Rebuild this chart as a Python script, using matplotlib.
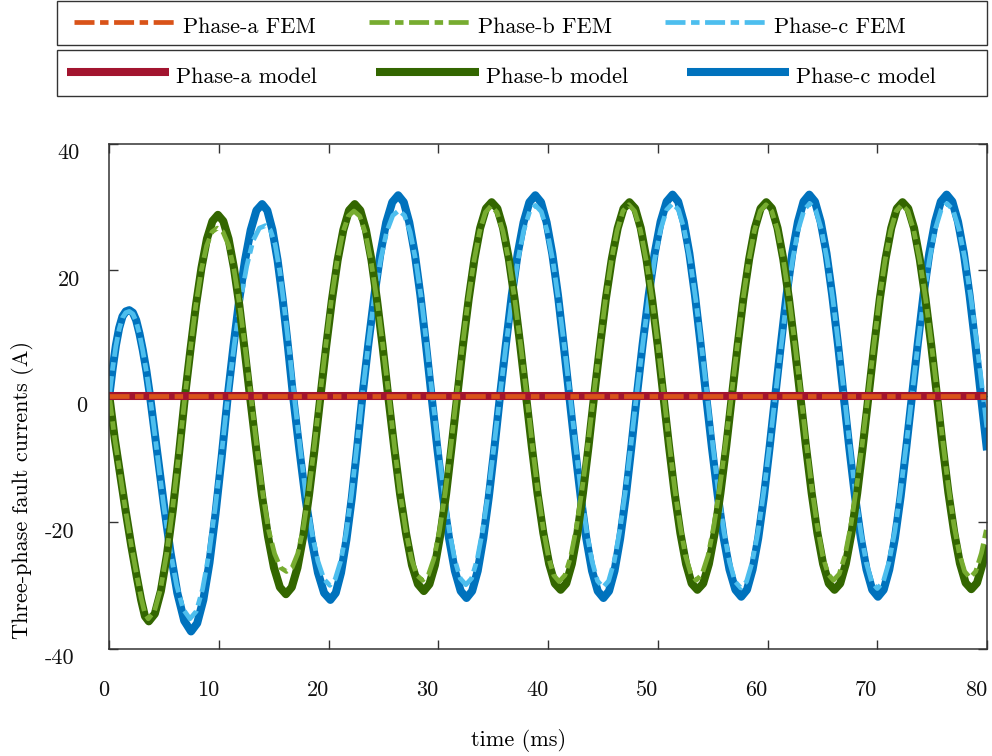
import matplotlib
matplotlib.use("Agg")
import matplotlib.pyplot as plt
from matplotlib.patches import Rectangle
from matplotlib.transforms import ScaledTranslation

plt.rcParams.update({
    "font.family": "serif",
    "font.serif": ["cmr10"],
    "axes.unicode_minus": False,
    "axes.formatter.use_mathtext": True,
    "mathtext.fontset": "cm",
    "lines.scale_dashes": False,
})

# ---------------------------------------------------------------- data (ms, A)
t_a = [0.0, 80.0]
i_a_model = [0.0, 0.0]
i_a_fem = [0.0, 0.0]

t_b_model = [
    0.0, 0.5, 1.0, 1.5, 2.0, 2.5, 2.9, 3.25, 3.6,
    4.15, 4.70, 5.25, 5.80, 6.35, 6.90,
    7.40, 7.90, 8.40, 8.90, 9.40, 9.90,
    10.39, 10.87, 11.36, 11.85, 12.33, 12.82,
    13.37, 13.91, 14.46, 15.01, 15.55, 16.10,
    16.63, 17.15, 17.68, 18.20, 18.73, 19.25,
    19.77, 20.29, 20.81, 21.33, 21.85, 22.37,
    22.88, 23.39, 23.90, 24.40, 24.91, 25.42,
    25.96, 26.50, 27.05, 27.59, 28.13, 28.67,
    29.18, 29.68, 30.19, 30.70, 31.20, 31.71,
    32.23, 32.76, 33.28, 33.80, 34.33, 34.85,
    35.37, 35.89, 36.42, 36.94, 37.46, 37.98,
    38.51, 39.03, 39.56, 40.09, 40.61, 41.14,
    41.65, 42.16, 42.67, 43.17, 43.68, 44.19,
    44.73, 45.26, 45.80, 46.34, 46.87, 47.41,
    47.93, 48.44, 48.96, 49.47, 49.99, 50.50,
    51.02, 51.53, 52.05, 52.57, 53.08, 53.60,
    54.13, 54.65, 55.18, 55.70, 56.23, 56.75,
    57.27, 57.79, 58.32, 58.84, 59.36, 59.88,
    60.40, 60.91, 61.43, 61.95, 62.46, 62.98,
    63.50, 64.02, 64.54, 65.06, 65.58, 66.10,
    66.62, 67.13, 67.65, 68.17, 68.68, 69.20,
    69.72, 70.23, 70.75, 71.27, 71.78, 72.30,
    72.82, 73.35, 73.87, 74.39, 74.92, 75.44,
    75.96, 76.48, 77.01, 77.53, 78.05, 78.57,
    79.09, 79.61, 80.00,
]
i_b_model = [
    0.0, -6.8, -12.6, -18.3, -23.7, -28.6, -32.3, -34.9, -35.7,
    -34.5, -30.9, -25.2, -17.9, -9.2, 0.0,
    7.4, 14.4, 20.3, 24.9, 27.7, 28.7,
    27.7, 24.9, 20.3, 14.4, 7.4, 0.0,
    -8.1, -15.7, -22.2, -27.2, -30.3, -31.4,
    -30.3, -27.2, -22.2, -15.7, -8.1, 0.0,
    7.9, 15.2, 21.5, 26.3, 29.4, 30.4,
    29.4, 26.3, 21.5, 15.2, 7.9, 0.0,
    -8.0, -15.5, -21.8, -26.8, -29.8, -30.9,
    -29.8, -26.8, -21.8, -15.5, -8.0, 0.0,
    8.0, 15.4, 21.7, 26.6, 29.7, 30.7,
    29.7, 26.6, 21.7, 15.4, 8.0, 0.0,
    -8.0, -15.4, -21.7, -26.6, -29.7, -30.7,
    -29.7, -26.6, -21.7, -15.4, -8.0, 0.0,
    8.0, 15.4, 21.7, 26.6, 29.7, 30.7,
    29.7, 26.6, 21.7, 15.4, 8.0, 0.0,
    -8.0, -15.4, -21.7, -26.6, -29.7, -30.7,
    -29.7, -26.6, -21.7, -15.4, -8.0, 0.0,
    8.0, 15.4, 21.7, 26.6, 29.7, 30.7,
    29.7, 26.6, 21.7, 15.4, 8.0, 0.0,
    -8.0, -15.4, -21.7, -26.6, -29.7, -30.7,
    -29.7, -26.6, -21.7, -15.4, -8.0, 0.0,
    8.0, 15.4, 21.7, 26.6, 29.7, 30.7,
    29.7, 26.6, 21.7, 15.4, 8.0, 0.0,
    -7.9, -15.3, -21.6, -26.5, -29.6, -30.6,
    -29.6, -26.5, -23.6,
]

t_c_model = [
    0.0, 0.3, 0.6, 0.9, 1.2, 1.5, 1.82, 2.15, 2.45, 2.75, 3.05, 3.38, 3.71,
    4.33, 4.96, 5.58, 6.20, 6.83, 7.45,
    8.01, 8.57, 9.13, 9.68, 10.24, 10.80,
    11.32, 11.84, 12.37, 12.89, 13.41, 13.93,
    14.40, 14.87, 15.34, 15.81, 16.28, 16.75,
    17.32, 17.88, 18.45, 19.02, 19.58, 20.15,
    20.64, 21.12, 21.61, 22.10, 22.58, 23.07,
    23.61, 24.16, 24.70, 25.24, 25.79, 26.33,
    26.84, 27.34, 27.85, 28.36, 28.86, 29.37,
    29.90, 30.43, 30.97, 31.50, 32.03, 32.56,
    33.07, 33.58, 34.08, 34.59, 35.10, 35.61,
    36.15, 36.68, 37.22, 37.76, 38.29, 38.83,
    39.35, 39.86, 40.38, 40.90, 41.41, 41.93,
    42.45, 42.97, 43.48, 44.00, 44.52, 45.04,
    45.55, 46.05, 46.56, 47.07, 47.57, 48.08,
    48.62, 49.17, 49.71, 50.25, 50.80, 51.34,
    51.85, 52.36, 52.87, 53.38, 53.89, 54.40,
    54.93, 55.47, 56.00, 56.53, 57.07, 57.60,
    58.12, 58.63, 59.15, 59.67, 60.18, 60.70,
    61.22, 61.73, 62.25, 62.77, 63.28, 63.80,
    64.32, 64.84, 65.37, 65.89, 66.41, 66.93,
    67.45, 67.97, 68.50, 69.02, 69.54, 70.06,
    70.58, 71.09, 71.61, 72.13, 72.64, 73.16,
    73.69, 74.21, 74.74, 75.27, 75.79, 76.32,
    76.84, 77.36, 77.89, 78.41, 78.93, 79.45,
    80.00,
]
i_c_model = [
    0.0, 4.3, 8.0, 10.8, 12.6, 13.4, 13.6, 13.2, 12.0, 9.9, 7.3, 4.0, 0.0,
    -8.5, -17.0, -24.8, -31.2, -35.6, -37.3,
    -36.0, -32.3, -26.4, -18.7, -9.7, 0.0,
    7.9, 15.2, 21.5, 26.3, 29.4, 30.4,
    29.4, 26.3, 21.5, 15.2, 7.9, 0.0,
    -8.4, -16.2, -22.8, -28.0, -31.2, -32.3,
    -31.2, -28.0, -22.8, -16.2, -8.4, 0.0,
    8.2, 15.9, 22.5, 27.5, 30.7, 31.8,
    30.7, 27.5, 22.5, 15.9, 8.2, 0.0,
    -8.3, -16.0, -22.6, -27.7, -30.9, -32.0,
    -30.9, -27.7, -22.6, -16.0, -8.3, 0.0,
    8.2, 15.9, 22.5, 27.5, 30.7, 31.8,
    30.7, 27.5, 22.5, 15.9, 8.2, 0.0,
    -8.3, -16.0, -22.6, -27.7, -30.9, -32.0,
    -30.9, -27.7, -22.6, -16.0, -8.3, 0.0,
    8.3, 16.0, 22.6, 27.6, 30.8, 31.9,
    30.8, 27.6, 22.6, 16.0, 8.3, 0.0,
    -8.2, -15.9, -22.5, -27.5, -30.7, -31.8,
    -30.7, -27.5, -22.5, -15.9, -8.2, 0.0,
    8.3, 16.0, 22.6, 27.6, 30.8, 31.9,
    30.8, 27.6, 22.6, 16.0, 8.3, 0.0,
    -8.2, -15.9, -22.5, -27.5, -30.7, -31.8,
    -30.7, -27.5, -22.5, -15.9, -8.2, 0.0,
    8.3, 16.0, 22.6, 27.6, 30.8, 31.9,
    30.8, 27.6, 22.6, 16.0, 8.3, 0.0,
    -8.6,
]

t_b_fem = [
    0.0, 0.5, 1.0, 1.5, 2.0, 2.5, 2.9, 3.25, 3.55,
    4.11, 4.67, 5.23, 5.78, 6.34, 6.90,
    7.39, 7.88, 8.38, 8.87, 9.36, 9.85,
    10.36, 10.87, 11.37, 11.88, 12.39, 12.90,
    13.44, 13.98, 14.53, 15.07, 15.61, 16.15,
    16.66, 17.17, 17.68, 18.18, 18.69, 19.20,
    19.72, 20.23, 20.75, 21.27, 21.78, 22.30,
    22.83, 23.36, 23.89, 24.42, 24.95, 25.48,
    25.99, 26.50, 27.02, 27.53, 28.04, 28.55,
    29.07, 29.58, 30.10, 30.62, 31.13, 31.65,
    32.18, 32.70, 33.23, 33.75, 34.28, 34.80,
    35.34, 35.88, 36.43, 36.97, 37.51, 38.05,
    38.54, 39.03, 39.53, 40.02, 40.51, 41.00,
    41.53, 42.05, 42.58, 43.10, 43.63, 44.15,
    44.68, 45.22, 45.75, 46.28, 46.82, 47.35,
    47.88, 48.42, 48.95, 49.48, 50.02, 50.55,
    51.04, 51.53, 52.03, 52.52, 53.01, 53.50,
    54.03, 54.57, 55.10, 55.63, 56.17, 56.70,
    57.23, 57.75, 58.28, 58.80, 59.33, 59.85,
    60.38, 60.92, 61.45, 61.98, 62.52, 63.05,
    63.54, 64.03, 64.53, 65.02, 65.51, 66.00,
    66.53, 67.05, 67.58, 68.10, 68.63, 69.15,
    69.67, 70.18, 70.70, 71.22, 71.73, 72.25,
    72.79, 73.33, 73.88, 74.42, 74.96, 75.50,
    75.99, 76.48, 76.98, 77.47, 77.96, 78.45,
    78.97, 79.49, 80.00,
]
i_b_fem = [
    0.0, -6.8, -12.6, -18.3, -23.6, -28.4, -32.0, -34.5, -35.3,
    -34.1, -30.6, -25.0, -17.7, -9.1, 0.0,
    7.4, 14.3, 19.9, 23.8, 26.0, 26.6,
    26.0, 23.9, 20.0, 14.4, 7.5, 0.0,
    -8.0, -15.4, -21.3, -25.0, -27.2, -27.8,
    -27.2, -25.0, -21.0, -15.2, -7.9, 0.0,
    7.8, 15.1, 21.2, 25.8, 28.5, 29.3,
    28.5, 25.7, 21.0, 14.9, 7.7, 0.0,
    -8.0, -15.3, -21.3, -25.8, -28.4, -29.2,
    -28.4, -25.8, -21.3, -15.3, -8.0, 0.0,
    7.8, 15.1, 21.3, 26.1, 29.1, 30.1,
    29.1, 26.1, 21.3, 15.1, 7.8, 0.0,
    -7.6, -14.7, -20.8, -25.5, -28.4, -29.4,
    -28.4, -25.5, -20.8, -14.7, -7.6, 0.0,
    7.8, 15.2, 21.4, 26.2, 29.3, 30.3,
    29.3, 26.2, 21.4, 15.2, 7.8, 0.0,
    -7.6, -14.6, -20.6, -25.3, -28.2, -29.2,
    -28.2, -25.3, -20.6, -14.6, -7.6, 0.0,
    7.8, 15.2, 21.4, 26.2, 29.3, 30.3,
    29.3, 26.2, 21.4, 15.2, 7.8, 0.0,
    -7.6, -14.6, -20.6, -25.3, -28.2, -29.2,
    -28.2, -25.3, -20.6, -14.6, -7.6, 0.0,
    7.8, 15.2, 21.4, 26.2, 29.3, 30.3,
    29.3, 26.2, 21.4, 15.2, 7.8, 0.0,
    -7.5, -14.4, -20.4, -24.9, -27.8, -28.8,
    -27.8, -24.9, -20.7,
]

t_c_fem = [
    0.0, 0.3, 0.6, 0.9, 1.2, 1.5, 1.82, 2.15, 2.45, 2.75, 3.05, 3.38, 3.71,
    4.32, 4.92, 5.53, 6.14, 6.74, 7.35,
    7.93, 8.50, 9.08, 9.65, 10.23, 10.80,
    11.38, 11.95, 12.53, 13.10, 13.68, 14.25,
    14.68, 15.12, 15.55, 15.98, 16.42, 16.85,
    17.39, 17.93, 18.48, 19.02, 19.56, 20.10,
    20.59, 21.08, 21.58, 22.07, 22.56, 23.05,
    23.61, 24.17, 24.73, 25.28, 25.84, 26.40,
    26.91, 27.42, 27.92, 28.43, 28.94, 29.45,
    29.96, 30.47, 30.97, 31.48, 31.99, 32.50,
    33.02, 33.53, 34.05, 34.57, 35.08, 35.60,
    36.14, 36.68, 37.23, 37.77, 38.31, 38.85,
    39.38, 39.90, 40.43, 40.95, 41.48, 42.00,
    42.50, 43.00, 43.50, 44.00, 44.50, 45.00,
    45.51, 46.02, 46.52, 47.03, 47.54, 48.05,
    48.60, 49.15, 49.70, 50.25, 50.80, 51.35,
    51.88, 52.40, 52.93, 53.45, 53.98, 54.50,
    55.01, 55.52, 56.02, 56.53, 57.04, 57.55,
    58.08, 58.60, 59.13, 59.65, 60.18, 60.70,
    61.23, 61.75, 62.28, 62.80, 63.33, 63.85,
    64.38, 64.90, 65.43, 65.95, 66.48, 67.00,
    67.50, 68.00, 68.50, 69.00, 69.50, 70.00,
    70.53, 71.05, 71.58, 72.10, 72.63, 73.15,
    73.68, 74.22, 74.75, 75.28, 75.82, 76.35,
    76.90, 77.45, 78.00, 78.55, 79.10, 79.65,
    80.00,
]
i_c_fem = [
    0.0, 4.3, 7.9, 10.6, 12.4, 13.2, 13.4, 13.0, 11.8, 9.8, 7.2, 3.9, 0.0,
    -8.4, -16.8, -24.3, -30.0, -33.8, -35.3,
    -34.1, -30.6, -25.0, -17.7, -9.2, 0.0,
    8.0, 15.0, 20.6, 24.6, 26.6, 27.0,
    26.3, 24.0, 19.6, 13.6, 7.0, 0.0,
    -8.2, -15.8, -21.8, -26.2, -29.0, -30.0,
    -29.0, -26.2, -21.8, -15.6, -8.1, 0.0,
    8.2, 15.8, 21.6, 26.0, 28.6, 29.4,
    28.6, 26.0, 21.6, 15.5, 8.0, 0.0,
    -7.7, -15.0, -21.1, -25.9, -28.9, -29.9,
    -28.9, -25.9, -21.1, -15.0, -7.7, 0.0,
    7.8, 15.1, 21.4, 26.2, 29.2, 30.2,
    29.2, 26.2, 21.4, 15.1, 7.8, 0.0,
    -7.8, -15.2, -21.4, -26.2, -29.3, -30.3,
    -29.3, -26.2, -21.4, -15.2, -7.8, 0.0,
    7.9, 15.3, 21.6, 26.4, 29.5, 30.5,
    29.5, 26.4, 21.6, 15.3, 7.9, 0.0,
    -7.9, -15.2, -21.5, -26.3, -29.4, -30.4,
    -29.4, -26.3, -21.5, -15.2, -7.9, 0.0,
    7.9, 15.3, 21.6, 26.4, 29.5, 30.5,
    29.5, 26.4, 21.6, 15.3, 7.9, 0.0,
    -7.9, -15.3, -21.6, -26.4, -29.5, -30.5,
    -29.5, -26.4, -21.6, -15.3, -7.9, 0.0,
    7.9, 15.3, 21.6, 26.4, 29.5, 30.5,
    29.5, 26.4, 21.6, 15.3, 7.9, 0.0,
    -5.2,
]

fem_labels = ["Phase-a FEM", "Phase-b FEM", "Phase-c FEM"]
model_labels = ["Phase-a model", "Phase-b model", "Phase-c model"]

x_ticks = [0, 10, 20, 30, 40, 50, 60, 70, 80]
x_tick_labels = ["0", "10", "20", "30", "40", "50", "60", "70", "80"]
y_ticks = [-40, -20, 0, 20, 40]
y_tick_labels = ["-40", "-20", "0", "20", "40"]

# ---------------------------------------------------------------- styling
COL_A_FEM, COL_B_FEM, COL_C_FEM = "#D95319", "#77AC30", "#4DBEEE"
COL_A_MOD, COL_B_MOD, COL_C_MOD = "#A2142F", "#336600", "#0072BD"
MODEL_LW = 5.8
FEM_LW = 3.4
FEM_DASH = (0, (14.4, 4.0, 6.1, 4.0))
FRAME = "#333333"
FS = 16

W, H = 992, 756
fig = plt.figure(figsize=(W / 100, H / 100), dpi=100)
ax_l, ax_r, ax_t, ax_b = 109.3, 987.0, 143.5, 648.5
ax = fig.add_axes([ax_l / W, 1 - ax_b / H, (ax_r - ax_l) / W, (ax_b - ax_t) / H])

solid = dict(lw=MODEL_LW, solid_capstyle="butt", solid_joinstyle="round")
dashed = dict(lw=FEM_LW, ls=FEM_DASH, dash_capstyle="butt", dash_joinstyle="round")

h_c_mod, = ax.plot(t_c_model, i_c_model, color=COL_C_MOD, **solid)
h_c_fem, = ax.plot(t_c_fem, i_c_fem, color=COL_C_FEM, **dashed)
h_b_mod, = ax.plot(t_b_model, i_b_model, color=COL_B_MOD, **solid)
h_b_fem, = ax.plot(t_b_fem, i_b_fem, color=COL_B_FEM, **dashed)
h_a_mod, = ax.plot(t_a, i_a_model, color=COL_A_MOD, **solid)
h_a_fem, = ax.plot(t_a, i_a_fem, color=COL_A_FEM, **dashed)

ax.set_xlim(0, 80)
ax.set_ylim(-40, 40)

for sp in ax.spines.values():
    sp.set_color(FRAME)
    sp.set_linewidth(1.1)

ax.tick_params(axis="both", which="major", direction="in", length=6.5, width=1.0,
               color=FRAME, labelsize=FS, labelcolor="#111111", top=True, right=True)
ax.tick_params(axis="x", pad=23)
ax.tick_params(axis="y", pad=16)
ax.set_xticks(x_ticks, labels=x_tick_labels)
ax.set_yticks(y_ticks, labels=y_tick_labels)

for lab in ax.get_xticklabels():
    lab.set_horizontalalignment("right")

# per-label nudges of the y tick labels (pixels)
y_label_dx = [-12.5, -12.5, 0.0, -7.0, -7.0]
for lab, dx in zip(ax.get_yticklabels(), y_label_dx):
    lab.set_transform(lab.get_transform() + ScaledTranslation(dx / 100, -8 / 100, fig.dpi_scale_trans))

ax.set_xlabel("time (ms)", fontsize=FS)
ax.xaxis.set_label_coords(0.466, -0.160)
ax.set_ylabel("Three-phase fault currents (A)", fontsize=FS)
ax.yaxis.set_label_coords((34.5 - ax_l) / (ax_r - ax_l), (ax_b - 490) / (ax_b - ax_t))

# ---------------------------------------------------------------- legends
leg_common = dict(loc="upper left", ncol=3, frameon=False, borderpad=0, borderaxespad=0,
                  handlelength=4.6, handleheight=1.67, handletextpad=0.32, fontsize=FS)
fig.legend([h_a_fem, h_b_fem, h_c_fem], fem_labels,
           bbox_to_anchor=(74 / W, 1 - 10.7 / H), columnspacing=2.36, **leg_common)
fig.legend([h_a_mod, h_b_mod, h_c_mod], model_labels,
           bbox_to_anchor=(67 / W, 1 - 60.7 / H), columnspacing=2.66, **leg_common)

for y0, y1 in [(0.8, 45.0), (50.0, 96.0)]:
    fig.add_artist(Rectangle((56.7 / W, 1 - y1 / H), (987 - 56.7) / W, (y1 - y0) / H,
                             transform=fig.transFigure, fill=False, edgecolor=FRAME,
                             linewidth=1.0))

fig.savefig("out.png", dpi=100)
